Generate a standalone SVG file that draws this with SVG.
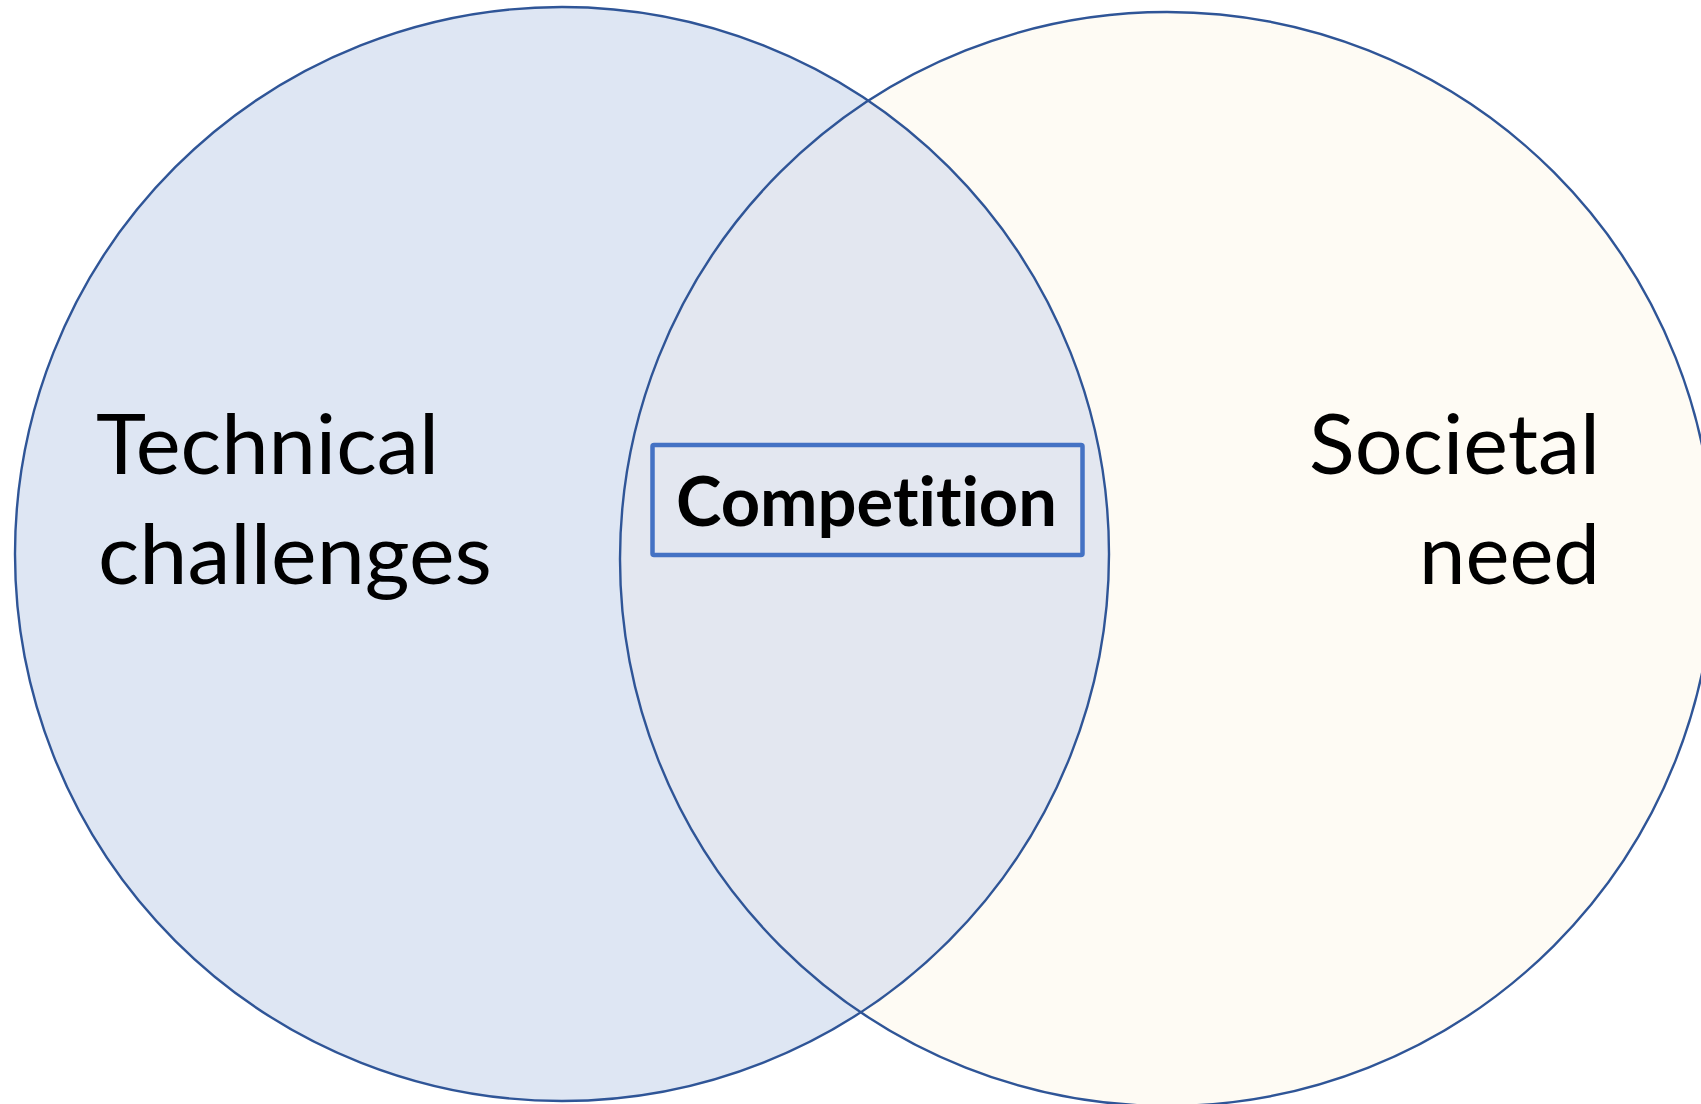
<svg xmlns="http://www.w3.org/2000/svg" width="1701" height="1104" viewBox="0 0 1701 1104">
<style>
.circ{stroke:#2F5597;stroke-width:2.4}
.lbl{font-family:Lato,"Open Sans","Liberation Sans",sans-serif;fill:#000;font-variant-ligatures:none;font-feature-settings:"liga" 0}
</style>
<defs>
<clipPath id="clipL"><circle cx="562" cy="554" r="547"/></clipPath>
</defs>
<rect width="1701" height="1104" fill="#ffffff"/>
<g id="technical">
<circle cx="562" cy="554" r="547" fill="#DEE6F3" stroke="none"/>
</g>
<g id="societal">
<circle cx="1167" cy="559" r="547" fill="#FEFBF4" stroke="none"/>
</g>
<g id="overlap">
<circle cx="1167" cy="559" r="547" fill="#E3E7F0" clip-path="url(#clipL)"/>
</g>
<g id="outlines" fill="none">
<circle class="circ" cx="562" cy="554" r="547"/>
<circle class="circ" cx="1167" cy="559" r="547"/>
</g>
<g id="technical-label">
<text class="lbl" x="96" y="474" font-size="84" textLength="343" lengthAdjust="spacingAndGlyphs">Technical</text>
<text class="lbl" x="98" y="584" font-size="84" textLength="394" lengthAdjust="spacingAndGlyphs">challenges</text>
</g>
<g id="societal-label">
<text class="lbl" x="1600" y="474" font-size="84" text-anchor="end" textLength="291" lengthAdjust="spacingAndGlyphs">Societal</text>
<text class="lbl" x="1600" y="584" font-size="84" text-anchor="end" textLength="181" lengthAdjust="spacingAndGlyphs">need</text>
</g>
<g id="competition">
<rect x="652.5" y="445" width="430" height="110" fill="none" stroke="#4472C4" stroke-width="4.5" rx="1.5"/>
<text class="lbl" x="866.5" y="526" font-size="69" font-weight="bold" text-anchor="middle" textLength="381" lengthAdjust="spacingAndGlyphs">Competition</text>
</g>
</svg>
